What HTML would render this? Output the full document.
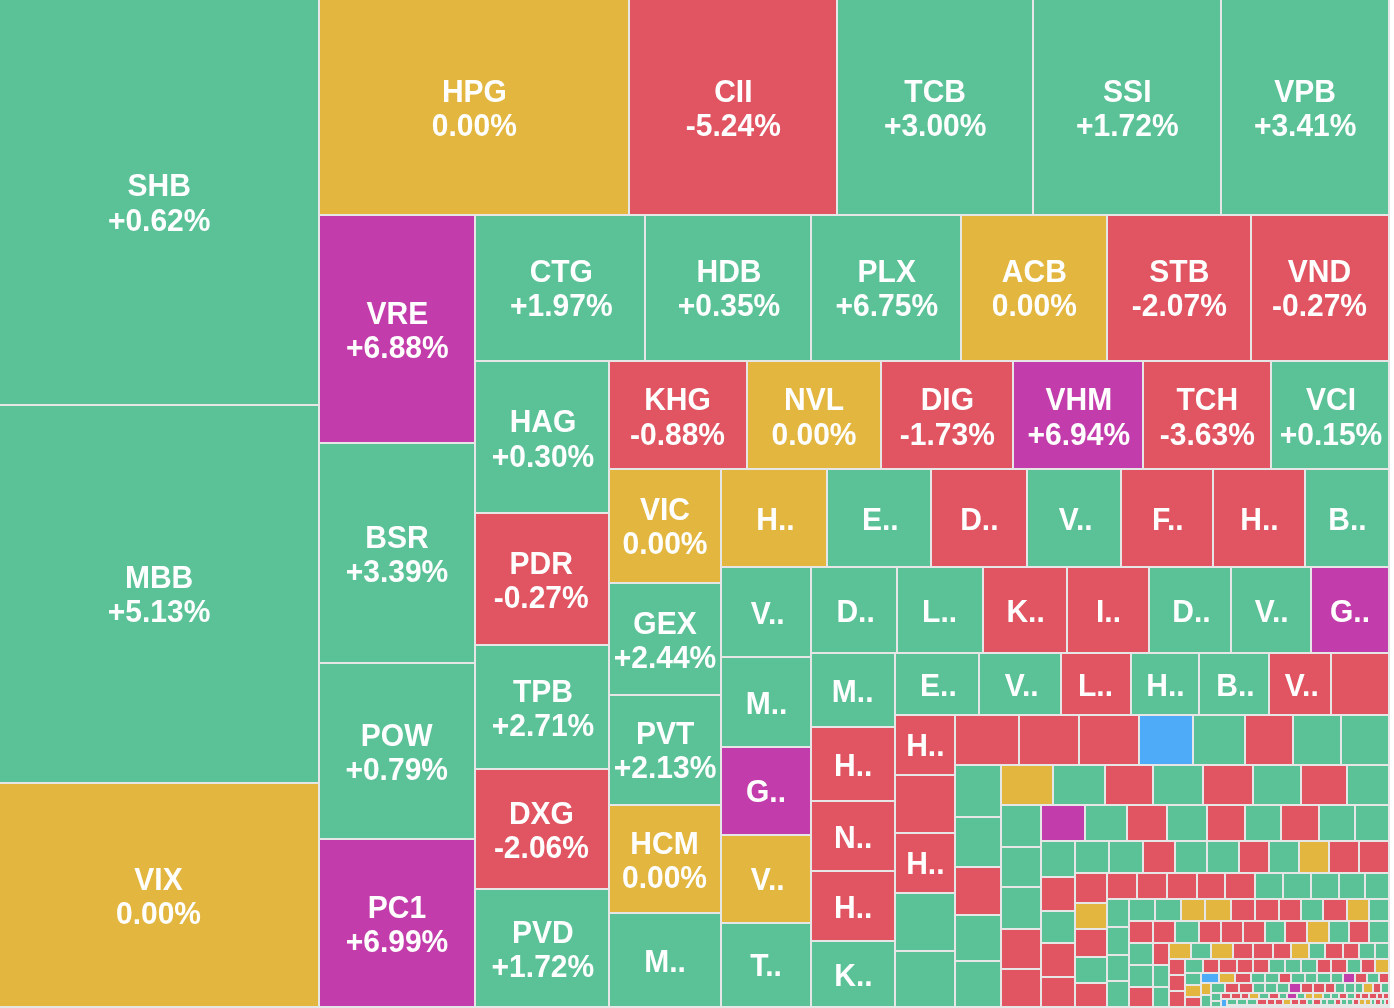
<!DOCTYPE html>
<html lang="vi">
<head>
<meta charset="utf-8">
<title>Heatmap</title>
<style>
html,body{margin:0;padding:0;background:#fff;}
body{width:1394px;height:1008px;overflow:hidden;position:relative;}
#map{position:absolute;left:0;top:0;width:1390px;height:1008px;background:#e6e6e6;overflow:hidden;}
#map i{position:absolute;display:block;}
#map div.c{position:absolute;text-align:center;color:#fff;font:bold 30px/0 "Liberation Sans",Arial,Helvetica,sans-serif;white-space:nowrap;overflow:hidden;}
#map div.c span{display:block;position:absolute;left:0;width:100%;top:50%;height:0;line-height:0;transform-origin:50% 0;}
#map .l1{transform:translateY(-16px) scaleY(1.055);}
#map .l2{transform:translateY(18px) scaleY(1.055);}
#map .l0{transform:translateY(1px) scaleY(1.055);}
#map .g{background:#5bc298;}
#map .r{background:#e15461;}
#map .y{background:#e3b640;}
#map .p{background:#c23dab;}
#map .b{background:#4eabf7;}
</style>
</head>
<body>
<div id="map">
<div class="c g" style="left:0px;top:0px;width:318px;height:404px"><span class="l1" style="left:0.2px;margin-top:-1px">SHB</span><span class="l2" style="left:0.2px">+0.62%</span></div>
<div class="c g" style="left:0px;top:406px;width:318px;height:376px"><span class="l1" style="left:0.1px;margin-top:-1px">MBB</span><span class="l2" style="left:0.1px;margin-top:-1px">+5.13%</span></div>
<div class="c y" style="left:0px;top:784px;width:318px;height:222px"><span class="l1" style="left:-0.5px">VIX</span><span class="l2" style="left:-0.5px">0.00%</span></div>
<div class="c y" style="left:320px;top:0px;width:308px;height:214px"><span class="l1" style="left:0.4px">HPG</span><span class="l2" style="left:0.4px">0.00%</span></div>
<div class="c r" style="left:630px;top:0px;width:206px;height:214px"><span class="l1" style="left:0.3px">CII</span><span class="l2" style="left:0.3px">-5.24%</span></div>
<div class="c g" style="left:838px;top:0px;width:194px;height:214px"><span class="l1" style="left:0.2px">TCB</span><span class="l2" style="left:0.2px">+3.00%</span></div>
<div class="c g" style="left:1034px;top:0px;width:186px;height:214px"><span class="l1" style="left:0.3px">SSI</span><span class="l2" style="left:0.3px">+1.72%</span></div>
<div class="c g" style="left:1222px;top:0px;width:166px;height:214px"><span class="l1" style="left:0.2px">VPB</span><span class="l2" style="left:0.2px">+3.41%</span></div>
<div class="c p" style="left:320px;top:216px;width:154px;height:226px"><span class="l1" style="left:0.4px">VRE</span><span class="l2" style="left:0.4px">+6.88%</span></div>
<div class="c g" style="left:320px;top:444px;width:154px;height:218px"><span class="l1">BSR</span><span class="l2">+3.39%</span></div>
<div class="c g" style="left:320px;top:664px;width:154px;height:174px"><span class="l1" style="left:-0.3px">POW</span><span class="l2" style="left:-0.3px">+0.79%</span></div>
<div class="c p" style="left:320px;top:840px;width:154px;height:166px"><span class="l1">PC1</span><span class="l2">+6.99%</span></div>
<div class="c g" style="left:476px;top:216px;width:168px;height:144px"><span class="l1" style="left:1.3px;margin-top:-1px">CTG</span><span class="l2" style="left:1.3px;margin-top:-1px">+1.97%</span></div>
<div class="c g" style="left:646px;top:216px;width:164px;height:144px"><span class="l1" style="left:1.0px;margin-top:-1px">HDB</span><span class="l2" style="left:1.0px;margin-top:-1px">+0.35%</span></div>
<div class="c g" style="left:812px;top:216px;width:148px;height:144px"><span class="l1" style="left:0.8px;margin-top:-1px">PLX</span><span class="l2" style="left:0.8px;margin-top:-1px">+6.75%</span></div>
<div class="c y" style="left:962px;top:216px;width:144px;height:144px"><span class="l1" style="left:0.3px;margin-top:-1px">ACB</span><span class="l2" style="left:0.3px;margin-top:-1px">0.00%</span></div>
<div class="c r" style="left:1108px;top:216px;width:142px;height:144px"><span class="l1" style="left:0.3px;margin-top:-1px">STB</span><span class="l2" style="left:0.3px;margin-top:-1px">-2.07%</span></div>
<div class="c r" style="left:1252px;top:216px;width:136px;height:144px"><span class="l1" style="left:-0.5px;margin-top:-1px">VND</span><span class="l2" style="left:-0.5px;margin-top:-1px">-0.27%</span></div>
<div class="c g" style="left:476px;top:362px;width:132px;height:150px"><span class="l1" style="left:1.0px">HAG</span><span class="l2" style="left:1.0px;margin-top:1px">+0.30%</span></div>
<div class="c r" style="left:476px;top:514px;width:132px;height:130px"><span class="l1" style="left:-0.8px">PDR</span><span class="l2" style="left:-0.8px">-0.27%</span></div>
<div class="c g" style="left:476px;top:646px;width:132px;height:122px"><span class="l1" style="left:1.0px">TPB</span><span class="l2" style="left:1.0px">+2.71%</span></div>
<div class="c r" style="left:476px;top:770px;width:132px;height:118px"><span class="l1" style="left:-0.6px">DXG</span><span class="l2" style="left:-0.6px">-2.06%</span></div>
<div class="c g" style="left:476px;top:890px;width:132px;height:116px"><span class="l1" style="left:0.9px">PVD</span><span class="l2" style="left:0.9px">+1.72%</span></div>
<div class="c r" style="left:610px;top:362px;width:136px;height:106px"><span class="l1" style="left:-0.5px">KHG</span><span class="l2" style="left:-0.5px;margin-top:1px">-0.88%</span></div>
<div class="c y" style="left:748px;top:362px;width:132px;height:106px"><span class="l1">NVL</span><span class="l2" style="margin-top:1px">0.00%</span></div>
<div class="c r" style="left:882px;top:362px;width:130px;height:106px"><span class="l1" style="left:0.3px">DIG</span><span class="l2" style="left:0.3px;margin-top:1px">-1.73%</span></div>
<div class="c p" style="left:1014px;top:362px;width:128px;height:106px"><span class="l1" style="left:0.8px">VHM</span><span class="l2" style="left:0.8px;margin-top:1px">+6.94%</span></div>
<div class="c r" style="left:1144px;top:362px;width:126px;height:106px"><span class="l1" style="left:0.3px">TCH</span><span class="l2" style="left:0.3px;margin-top:1px">-3.63%</span></div>
<div class="c g" style="left:1272px;top:362px;width:116px;height:106px"><span class="l1" style="left:1.0px">VCI</span><span class="l2" style="left:1.0px;margin-top:1px">+0.15%</span></div>
<div class="c y" style="left:610px;top:470px;width:110px;height:112px"><span class="l1" style="margin-top:-1px">VIC</span><span class="l2" style="margin-top:-1px">0.00%</span></div>
<div class="c g" style="left:610px;top:584px;width:110px;height:110px"><span class="l1">GEX</span><span class="l2">+2.44%</span></div>
<div class="c g" style="left:610px;top:696px;width:110px;height:108px"><span class="l1" style="left:0.1px;margin-top:-1px">PVT</span><span class="l2" style="left:0.1px;margin-top:-1px">+2.13%</span></div>
<div class="c y" style="left:610px;top:806px;width:110px;height:106px"><span class="l1" style="left:-0.5px">HCM</span><span class="l2" style="left:-0.5px">0.00%</span></div>
<div class="c g" style="left:610px;top:914px;width:110px;height:92px"><span class="l0">M..</span></div>
<div class="c y" style="left:722px;top:470px;width:104px;height:96px"><span class="l0" style="left:1.4px">H..</span></div>
<div class="c g" style="left:828px;top:470px;width:102px;height:96px"><span class="l0" style="left:1.3px">E..</span></div>
<div class="c r" style="left:932px;top:470px;width:94px;height:96px"><span class="l0" style="left:0.3px">D..</span></div>
<div class="c g" style="left:1028px;top:470px;width:92px;height:96px"><span class="l0" style="left:1.7px">V..</span></div>
<div class="c r" style="left:1122px;top:470px;width:90px;height:96px"><span class="l0" style="left:0.75px">F..</span></div>
<div class="c r" style="left:1214px;top:470px;width:90px;height:96px"><span class="l0" style="left:0.5px">H..</span></div>
<div class="c g" style="left:1306px;top:470px;width:82px;height:96px"><span class="l0" style="left:0.5px">B..</span></div>
<div class="c g" style="left:722px;top:568px;width:88px;height:88px"><span class="l0" style="left:1.7px">V..</span></div>
<div class="c g" style="left:722px;top:658px;width:88px;height:88px"><span class="l0" style="left:0.6px">M..</span></div>
<div class="c p" style="left:722px;top:748px;width:88px;height:86px"><span class="l0" style="margin-top:-1px">G..</span></div>
<div class="c y" style="left:722px;top:836px;width:88px;height:86px"><span class="l0" style="left:1.7px;margin-top:-1px">V..</span></div>
<div class="c g" style="left:722px;top:924px;width:88px;height:82px"><span class="l0" style="margin-top:-1px">T..</span></div>
<div class="c g" style="left:812px;top:568px;width:84px;height:84px"><span class="l0" style="left:1.6px">D..</span></div>
<div class="c g" style="left:898px;top:568px;width:84px;height:84px"><span class="l0" style="left:-0.4px">L..</span></div>
<div class="c r" style="left:984px;top:568px;width:82px;height:84px"><span class="l0" style="left:0.55px">K..</span></div>
<div class="c r" style="left:1068px;top:568px;width:80px;height:84px"><span class="l0" style="left:0.5px">I..</span></div>
<div class="c g" style="left:1150px;top:568px;width:80px;height:84px"><span class="l0" style="left:1.4px">D..</span></div>
<div class="c g" style="left:1232px;top:568px;width:78px;height:84px"><span class="l0" style="left:0.6px">V..</span></div>
<div class="c p" style="left:1312px;top:568px;width:76px;height:84px"><span class="l0">G..</span></div>
<div class="c g" style="left:812px;top:654px;width:82px;height:72px"><span class="l0" style="left:-0.3px">M..</span></div>
<div class="c r" style="left:812px;top:728px;width:82px;height:72px"><span class="l0" style="left:0.2px">H..</span></div>
<div class="c r" style="left:812px;top:802px;width:82px;height:68px"><span class="l0" style="left:0.2px">N..</span></div>
<div class="c r" style="left:812px;top:872px;width:82px;height:68px"><span class="l0" style="left:0.2px">H..</span></div>
<div class="c g" style="left:812px;top:942px;width:82px;height:64px"><span class="l0" style="left:0.4px">K..</span></div>
<div class="c g" style="left:896px;top:654px;width:82px;height:60px"><span class="l0" style="left:1.45px">E..</span></div>
<div class="c g" style="left:980px;top:654px;width:80px;height:60px"><span class="l0" style="left:1.7px">V..</span></div>
<div class="c r" style="left:1062px;top:654px;width:68px;height:60px"><span class="l0" style="left:-0.5px">L..</span></div>
<div class="c g" style="left:1132px;top:654px;width:66px;height:60px"><span class="l0" style="left:0.4px">H..</span></div>
<div class="c g" style="left:1200px;top:654px;width:68px;height:60px"><span class="l0" style="left:1.5px">B..</span></div>
<div class="c r" style="left:1270px;top:654px;width:60px;height:60px"><span class="l0" style="left:1.8px">V..</span></div>
<i class="r" style="left:1332px;top:654px;width:56px;height:60px"></i>
<div class="c r" style="left:896px;top:716px;width:58px;height:58px"><span class="l0" style="left:0.3px;margin-top:-1px">H..</span></div>
<i class="r" style="left:896px;top:776px;width:58px;height:56px"></i>
<div class="c r" style="left:896px;top:834px;width:58px;height:58px"><span class="l0" style="left:0.3px;margin-top:-1px">H..</span></div>
<i class="g" style="left:896px;top:894px;width:58px;height:56px"></i>
<i class="g" style="left:896px;top:952px;width:58px;height:54px"></i>
<i class="r" style="left:956px;top:716px;width:62px;height:48px"></i>
<i class="r" style="left:1020px;top:716px;width:58px;height:48px"></i>
<i class="r" style="left:1080px;top:716px;width:58px;height:48px"></i>
<i class="b" style="left:1140px;top:716px;width:52px;height:48px"></i>
<i class="g" style="left:1194px;top:716px;width:50px;height:48px"></i>
<i class="r" style="left:1246px;top:716px;width:46px;height:48px"></i>
<i class="g" style="left:1294px;top:716px;width:46px;height:48px"></i>
<i class="g" style="left:1342px;top:716px;width:46px;height:48px"></i>
<i class="g" style="left:956px;top:766px;width:44px;height:50px"></i>
<i class="g" style="left:956px;top:818px;width:44px;height:48px"></i>
<i class="r" style="left:956px;top:868px;width:44px;height:46px"></i>
<i class="g" style="left:956px;top:916px;width:44px;height:44px"></i>
<i class="g" style="left:956px;top:962px;width:44px;height:44px"></i>
<i class="y" style="left:1002px;top:766px;width:50px;height:38px"></i>
<i class="g" style="left:1054px;top:766px;width:50px;height:38px"></i>
<i class="r" style="left:1106px;top:766px;width:46px;height:38px"></i>
<i class="g" style="left:1154px;top:766px;width:48px;height:38px"></i>
<i class="r" style="left:1204px;top:766px;width:48px;height:38px"></i>
<i class="g" style="left:1254px;top:766px;width:46px;height:38px"></i>
<i class="r" style="left:1302px;top:766px;width:44px;height:38px"></i>
<i class="g" style="left:1348px;top:766px;width:40px;height:38px"></i>
<i class="g" style="left:1002px;top:806px;width:38px;height:40px"></i>
<i class="g" style="left:1002px;top:848px;width:38px;height:38px"></i>
<i class="g" style="left:1002px;top:888px;width:38px;height:40px"></i>
<i class="r" style="left:1002px;top:930px;width:38px;height:38px"></i>
<i class="r" style="left:1002px;top:970px;width:38px;height:36px"></i>
<i class="p" style="left:1042px;top:806px;width:42px;height:34px"></i>
<i class="g" style="left:1086px;top:806px;width:40px;height:34px"></i>
<i class="r" style="left:1128px;top:806px;width:38px;height:34px"></i>
<i class="g" style="left:1168px;top:806px;width:38px;height:34px"></i>
<i class="r" style="left:1208px;top:806px;width:36px;height:34px"></i>
<i class="g" style="left:1246px;top:806px;width:34px;height:34px"></i>
<i class="r" style="left:1282px;top:806px;width:36px;height:34px"></i>
<i class="g" style="left:1320px;top:806px;width:34px;height:34px"></i>
<i class="g" style="left:1356px;top:806px;width:32px;height:34px"></i>
<i class="g" style="left:1042px;top:842px;width:32px;height:34px"></i>
<i class="r" style="left:1042px;top:878px;width:32px;height:32px"></i>
<i class="g" style="left:1042px;top:912px;width:32px;height:30px"></i>
<i class="r" style="left:1042px;top:944px;width:32px;height:32px"></i>
<i class="r" style="left:1042px;top:978px;width:32px;height:28px"></i>
<i class="g" style="left:1076px;top:842px;width:32px;height:30px"></i>
<i class="g" style="left:1110px;top:842px;width:32px;height:30px"></i>
<i class="r" style="left:1144px;top:842px;width:30px;height:30px"></i>
<i class="g" style="left:1176px;top:842px;width:30px;height:30px"></i>
<i class="g" style="left:1208px;top:842px;width:30px;height:30px"></i>
<i class="r" style="left:1240px;top:842px;width:28px;height:30px"></i>
<i class="g" style="left:1270px;top:842px;width:28px;height:30px"></i>
<i class="y" style="left:1300px;top:842px;width:28px;height:30px"></i>
<i class="r" style="left:1330px;top:842px;width:28px;height:30px"></i>
<i class="r" style="left:1360px;top:842px;width:28px;height:30px"></i>
<i class="r" style="left:1076px;top:874px;width:30px;height:28px"></i>
<i class="y" style="left:1076px;top:904px;width:30px;height:24px"></i>
<i class="r" style="left:1076px;top:930px;width:30px;height:26px"></i>
<i class="g" style="left:1076px;top:958px;width:30px;height:24px"></i>
<i class="r" style="left:1076px;top:984px;width:30px;height:22px"></i>
<i class="r" style="left:1108px;top:874px;width:28px;height:24px"></i>
<i class="r" style="left:1138px;top:874px;width:28px;height:24px"></i>
<i class="r" style="left:1168px;top:874px;width:28px;height:24px"></i>
<i class="r" style="left:1198px;top:874px;width:26px;height:24px"></i>
<i class="r" style="left:1226px;top:874px;width:28px;height:24px"></i>
<i class="g" style="left:1256px;top:874px;width:26px;height:24px"></i>
<i class="g" style="left:1284px;top:874px;width:26px;height:24px"></i>
<i class="g" style="left:1312px;top:874px;width:26px;height:24px"></i>
<i class="g" style="left:1340px;top:874px;width:24px;height:24px"></i>
<i class="g" style="left:1366px;top:874px;width:22px;height:24px"></i>
<i class="g" style="left:1108px;top:900px;width:20px;height:26px"></i>
<i class="g" style="left:1108px;top:928px;width:20px;height:26px"></i>
<i class="g" style="left:1108px;top:956px;width:20px;height:24px"></i>
<i class="g" style="left:1108px;top:982px;width:20px;height:24px"></i>
<i class="g" style="left:1130px;top:900px;width:24px;height:20px"></i>
<i class="g" style="left:1156px;top:900px;width:24px;height:20px"></i>
<i class="y" style="left:1182px;top:900px;width:22px;height:20px"></i>
<i class="y" style="left:1206px;top:900px;width:24px;height:20px"></i>
<i class="r" style="left:1232px;top:900px;width:22px;height:20px"></i>
<i class="r" style="left:1256px;top:900px;width:22px;height:20px"></i>
<i class="r" style="left:1280px;top:900px;width:20px;height:20px"></i>
<i class="g" style="left:1302px;top:900px;width:20px;height:20px"></i>
<i class="r" style="left:1324px;top:900px;width:22px;height:20px"></i>
<i class="y" style="left:1348px;top:900px;width:20px;height:20px"></i>
<i class="g" style="left:1370px;top:900px;width:18px;height:20px"></i>
<i class="r" style="left:1130px;top:922px;width:22px;height:20px"></i>
<i class="g" style="left:1130px;top:944px;width:22px;height:20px"></i>
<i class="g" style="left:1130px;top:966px;width:22px;height:20px"></i>
<i class="r" style="left:1130px;top:988px;width:22px;height:18px"></i>
<i class="r" style="left:1154px;top:922px;width:20px;height:20px"></i>
<i class="g" style="left:1176px;top:922px;width:22px;height:20px"></i>
<i class="r" style="left:1200px;top:922px;width:20px;height:20px"></i>
<i class="r" style="left:1222px;top:922px;width:20px;height:20px"></i>
<i class="r" style="left:1244px;top:922px;width:20px;height:20px"></i>
<i class="g" style="left:1266px;top:922px;width:18px;height:20px"></i>
<i class="r" style="left:1286px;top:922px;width:20px;height:20px"></i>
<i class="y" style="left:1308px;top:922px;width:20px;height:20px"></i>
<i class="g" style="left:1330px;top:922px;width:18px;height:20px"></i>
<i class="r" style="left:1350px;top:922px;width:18px;height:20px"></i>
<i class="g" style="left:1370px;top:922px;width:18px;height:20px"></i>
<i class="r" style="left:1154px;top:944px;width:14px;height:20px"></i>
<i class="g" style="left:1154px;top:966px;width:14px;height:20px"></i>
<i class="g" style="left:1154px;top:988px;width:14px;height:18px"></i>
<i class="y" style="left:1170px;top:944px;width:20px;height:14px"></i>
<i class="g" style="left:1192px;top:944px;width:18px;height:14px"></i>
<i class="y" style="left:1212px;top:944px;width:20px;height:14px"></i>
<i class="r" style="left:1234px;top:944px;width:18px;height:14px"></i>
<i class="r" style="left:1254px;top:944px;width:18px;height:14px"></i>
<i class="r" style="left:1274px;top:944px;width:16px;height:14px"></i>
<i class="y" style="left:1292px;top:944px;width:16px;height:14px"></i>
<i class="g" style="left:1310px;top:944px;width:14px;height:14px"></i>
<i class="r" style="left:1326px;top:944px;width:16px;height:14px"></i>
<i class="r" style="left:1344px;top:944px;width:14px;height:14px"></i>
<i class="g" style="left:1360px;top:944px;width:14px;height:14px"></i>
<i class="g" style="left:1376px;top:944px;width:12px;height:14px"></i>
<i class="r" style="left:1170px;top:960px;width:14px;height:14px"></i>
<i class="r" style="left:1170px;top:976px;width:14px;height:14px"></i>
<i class="r" style="left:1170px;top:992px;width:14px;height:14px"></i>
<i class="g" style="left:1186px;top:960px;width:16px;height:12px"></i>
<i class="r" style="left:1204px;top:960px;width:14px;height:12px"></i>
<i class="r" style="left:1220px;top:960px;width:16px;height:12px"></i>
<i class="r" style="left:1238px;top:960px;width:14px;height:12px"></i>
<i class="r" style="left:1254px;top:960px;width:14px;height:12px"></i>
<i class="g" style="left:1270px;top:960px;width:14px;height:12px"></i>
<i class="g" style="left:1286px;top:960px;width:14px;height:12px"></i>
<i class="g" style="left:1302px;top:960px;width:14px;height:12px"></i>
<i class="r" style="left:1318px;top:960px;width:12px;height:12px"></i>
<i class="r" style="left:1332px;top:960px;width:14px;height:12px"></i>
<i class="g" style="left:1348px;top:960px;width:12px;height:12px"></i>
<i class="r" style="left:1362px;top:960px;width:12px;height:12px"></i>
<i class="y" style="left:1376px;top:960px;width:12px;height:12px"></i>
<i class="g" style="left:1186px;top:974px;width:14px;height:10px"></i>
<i class="y" style="left:1186px;top:986px;width:14px;height:10px"></i>
<i class="r" style="left:1186px;top:998px;width:14px;height:8px"></i>
<i class="b" style="left:1202px;top:974px;width:16px;height:8px"></i>
<i class="y" style="left:1220px;top:974px;width:14px;height:8px"></i>
<i class="r" style="left:1236px;top:974px;width:14px;height:8px"></i>
<i class="g" style="left:1252px;top:974px;width:12px;height:8px"></i>
<i class="g" style="left:1266px;top:974px;width:12px;height:8px"></i>
<i class="r" style="left:1280px;top:974px;width:10px;height:8px"></i>
<i class="g" style="left:1292px;top:974px;width:12px;height:8px"></i>
<i class="g" style="left:1306px;top:974px;width:10px;height:8px"></i>
<i class="g" style="left:1318px;top:974px;width:12px;height:8px"></i>
<i class="g" style="left:1332px;top:974px;width:10px;height:8px"></i>
<i class="p" style="left:1344px;top:974px;width:10px;height:8px"></i>
<i class="r" style="left:1356px;top:974px;width:10px;height:8px"></i>
<i class="g" style="left:1368px;top:974px;width:10px;height:8px"></i>
<i class="r" style="left:1380px;top:974px;width:8px;height:8px"></i>
<i class="y" style="left:1202px;top:984px;width:8px;height:10px"></i>
<i class="g" style="left:1202px;top:996px;width:8px;height:10px"></i>
<i class="g" style="left:1212px;top:984px;width:12px;height:8px"></i>
<i class="r" style="left:1226px;top:984px;width:12px;height:8px"></i>
<i class="r" style="left:1240px;top:984px;width:12px;height:8px"></i>
<i class="g" style="left:1254px;top:984px;width:10px;height:8px"></i>
<i class="g" style="left:1266px;top:984px;width:10px;height:8px"></i>
<i class="g" style="left:1278px;top:984px;width:10px;height:8px"></i>
<i class="p" style="left:1290px;top:984px;width:10px;height:8px"></i>
<i class="r" style="left:1302px;top:984px;width:10px;height:8px"></i>
<i class="r" style="left:1314px;top:984px;width:10px;height:8px"></i>
<i class="r" style="left:1326px;top:984px;width:8px;height:8px"></i>
<i class="g" style="left:1336px;top:984px;width:8px;height:8px"></i>
<i class="g" style="left:1346px;top:984px;width:8px;height:8px"></i>
<i class="g" style="left:1356px;top:984px;width:6px;height:8px"></i>
<i class="y" style="left:1364px;top:984px;width:8px;height:8px"></i>
<i class="r" style="left:1374px;top:984px;width:6px;height:8px"></i>
<i class="g" style="left:1382px;top:984px;width:6px;height:8px"></i>
<i class="g" style="left:1212px;top:994px;width:8px;height:6px"></i>
<i class="g" style="left:1212px;top:1002px;width:8px;height:4px"></i>
<i class="r" style="left:1222px;top:994px;width:8px;height:4px"></i>
<i class="r" style="left:1232px;top:994px;width:8px;height:4px"></i>
<i class="r" style="left:1242px;top:994px;width:6px;height:4px"></i>
<i class="y" style="left:1250px;top:994px;width:8px;height:4px"></i>
<i class="g" style="left:1260px;top:994px;width:8px;height:4px"></i>
<i class="r" style="left:1270px;top:994px;width:8px;height:4px"></i>
<i class="g" style="left:1280px;top:994px;width:6px;height:4px"></i>
<i class="p" style="left:1288px;top:994px;width:8px;height:4px"></i>
<i class="g" style="left:1298px;top:994px;width:6px;height:4px"></i>
<i class="y" style="left:1306px;top:994px;width:6px;height:4px"></i>
<i class="y" style="left:1314px;top:994px;width:8px;height:4px"></i>
<i class="g" style="left:1324px;top:994px;width:6px;height:4px"></i>
<i class="g" style="left:1332px;top:994px;width:6px;height:4px"></i>
<i class="r" style="left:1340px;top:994px;width:6px;height:4px"></i>
<i class="g" style="left:1348px;top:994px;width:6px;height:4px"></i>
<i class="r" style="left:1356px;top:994px;width:4px;height:4px"></i>
<i class="r" style="left:1362px;top:994px;width:6px;height:4px"></i>
<i class="r" style="left:1370px;top:994px;width:6px;height:4px"></i>
<i class="r" style="left:1378px;top:994px;width:4px;height:4px"></i>
<i class="r" style="left:1384px;top:994px;width:4px;height:4px"></i>
<i class="b" style="left:1222px;top:1000px;width:4px;height:6px"></i>
<i class="g" style="left:1228px;top:1000px;width:8px;height:4px"></i>
<i class="g" style="left:1238px;top:1000px;width:8px;height:4px"></i>
<i class="g" style="left:1248px;top:1000px;width:8px;height:4px"></i>
<i class="r" style="left:1258px;top:1000px;width:8px;height:4px"></i>
<i class="r" style="left:1268px;top:1000px;width:6px;height:4px"></i>
<i class="r" style="left:1276px;top:1000px;width:6px;height:4px"></i>
<i class="y" style="left:1284px;top:1000px;width:6px;height:4px"></i>
<i class="r" style="left:1292px;top:1000px;width:6px;height:4px"></i>
<i class="r" style="left:1300px;top:1000px;width:6px;height:4px"></i>
<i class="g" style="left:1308px;top:1000px;width:4px;height:4px"></i>
<i class="r" style="left:1314px;top:1000px;width:6px;height:4px"></i>
<i class="g" style="left:1322px;top:1000px;width:4px;height:4px"></i>
<i class="g" style="left:1328px;top:1000px;width:6px;height:4px"></i>
<i class="r" style="left:1336px;top:1000px;width:4px;height:4px"></i>
<i class="g" style="left:1342px;top:1000px;width:4px;height:4px"></i>
<i class="g" style="left:1348px;top:1000px;width:4px;height:4px"></i>
<i class="r" style="left:1354px;top:1000px;width:4px;height:4px"></i>
<i class="y" style="left:1360px;top:1000px;width:4px;height:4px"></i>
<i class="y" style="left:1366px;top:1000px;width:4px;height:4px"></i>
<i class="g" style="left:1372px;top:1000px;width:2px;height:4px"></i>
<i class="r" style="left:1376px;top:1000px;width:4px;height:4px"></i>
<i class="g" style="left:1382px;top:1000px;width:2px;height:4px"></i>
<i class="r" style="left:1386px;top:1000px;width:2px;height:4px"></i>
</div>
</body>
</html>
